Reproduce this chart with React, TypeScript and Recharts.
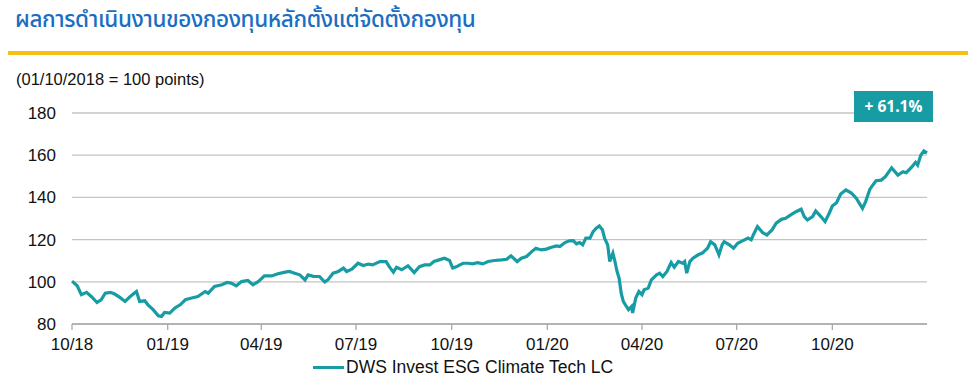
import React from 'react';
import { LineChart, Line, XAxis, YAxis, CartesianGrid } from 'recharts';

// days counted from 01/10/2018 (index = 100)
const dayIndex = [
  0, 5, 9, 14, 19, 24, 28, 32, 37, 41, 46, 51, 56, 62, 65, 70, 73, 78, 83, 86,
  89, 94, 99, 104, 109, 115, 121, 128, 131, 137, 144, 149, 153, 158, 163, 169, 174, 179, 185, 192,
  198, 205, 209, 214, 219, 224, 227, 232, 238, 243, 246, 251, 256, 261, 264, 269, 275, 280, 285, 289,
  296, 302, 305, 309, 312, 317, 323, 329, 334, 339, 344, 348, 353, 358, 363, 366, 370, 373, 376, 381,
  385, 390, 395, 400, 406, 413, 418, 422, 428, 432, 437, 442, 446, 451, 456, 461, 466, 469, 474, 478,
  482, 485, 488, 491, 494, 498, 501, 504, 507, 510, 512, 515, 517, 520, 522, 524, 526, 528, 530, 533,
  535, 538, 539, 542, 545, 548, 550, 554, 557, 562, 565, 568, 572, 576, 579, 583, 587, 589, 591, 594,
  597, 602, 606, 611, 614, 618, 622, 625, 627, 632, 636, 640, 645, 650, 653, 655, 659, 664, 668, 673,
  677, 682, 686, 691, 696, 701, 704, 707, 712, 715, 720, 724, 728, 731, 735, 739, 744, 749, 754, 757,
  760, 763, 767, 770, 773, 778, 782, 788, 794, 799, 802, 807, 811, 813, 816, 819, 822,
];

const fundValues = [
  100.3, 98.1, 93.9, 95.0, 92.8, 90.2, 91.5, 94.6, 95.0, 94.2, 92.6, 90.7, 93.0, 95.4, 90.7, 91.0, 89.1, 86.8, 83.9, 83.6,
  85.5, 85.2, 87.6, 89.1, 91.5, 92.3, 93.0, 95.4, 94.6, 97.8, 98.6, 99.7, 99.4, 98.1, 100.1, 100.6, 98.6, 100.1, 102.8, 102.8,
  103.8, 104.6, 104.9, 104.1, 103.3, 100.9, 103.3, 102.6, 102.5, 99.9, 100.9, 104.1, 104.9, 106.5, 104.9, 106.0, 108.8, 107.7, 108.4, 108.0,
  109.6, 109.6, 107.2, 104.6, 106.9, 105.7, 107.6, 104.4, 107.2, 108.0, 108.0, 109.6, 110.4, 111.2, 110.1, 106.5, 107.2, 108.0, 108.8, 108.8,
  108.5, 109.1, 108.5, 109.6, 110.1, 110.4, 110.7, 112.3, 109.6, 111.2, 112.0, 114.3, 115.9, 115.1, 115.5, 116.4, 117.0, 116.7, 118.6, 119.4,
  119.5, 118.0, 118.6, 117.5, 120.7, 120.7, 123.8, 125.4, 126.5, 124.6, 120.7, 117.5, 109.6, 113.6, 109.6, 104.9, 101.7, 94.6, 90.7, 88.3,
  86.8, 88.3, 85.2, 92.3, 95.4, 93.9, 96.2, 97.0, 100.9, 103.3, 104.1, 102.5, 104.9, 109.1, 106.9, 109.6, 108.8, 109.6, 104.1, 109.6,
  111.2, 112.8, 113.6, 115.9, 119.0, 117.5, 112.8, 117.5, 119.0, 117.5, 115.9, 118.3, 119.5, 120.7, 119.9, 122.2, 126.2, 123.3, 122.2, 124.6,
  127.8, 129.6, 130.1, 131.7, 133.2, 134.4, 130.9, 129.3, 130.9, 133.6, 130.9, 128.5, 132.5, 135.9, 137.5, 141.6, 143.5, 142.2, 139.6, 137.2,
  134.8, 138.0, 143.8, 145.9, 147.9, 148.2, 149.8, 154.0, 150.6, 152.2, 151.7, 154.2, 156.6, 155.3, 160.0, 162.0, 161.1,
];

const quarterTicks = [0, 92, 182, 273, 365, 457, 548, 639, 731];
const quarterLabels = ['10/18', '01/19', '04/19', '07/19', '10/19', '01/20', '04/20', '07/20', '10/20'];
const yTicks = [80, 100, 120, 140, 160, 180];

const seriesName = 'DWS Invest ESG Climate Tech LC';
const title = 'ผลการดำเนินงานของกองทุนหลักตั้งแต่จัดตั้งกองทุน';
const subtitle = '(01/10/2018 = 100 points)';
const returnLabel = '+ 61.1%';

const chartData = dayIndex.map((d, i) => ({ day: d, value: fundValues[i] }));

const TEAL = '#189ca4';
const FONT = '"Liberation Sans", Arial, sans-serif';

export default function App() {
  return (
    <div style={styles.page}>
      <style>{'body{margin:0}'}</style>
      <div style={styles.title}>{title}</div>
      <div style={styles.rule} />
      <div style={styles.subtitle}>{subtitle}</div>

      <div style={styles.chart}>
        <LineChart
          width={968}
          height={391}
          data={chartData}
          margin={{ top: 113, right: 41, left: 0, bottom: 37 }}
        >
          <CartesianGrid vertical={false} stroke="#c4c4c4" strokeWidth={1.3} />
          <XAxis
            dataKey="day"
            type="number"
            domain={[0, 822]}
            ticks={quarterTicks}
            tickFormatter={(v: number) => quarterLabels[quarterTicks.indexOf(v)]}
            tick={{ fontSize: 17, fill: '#111', fontFamily: FONT }}
            stroke="#a9a9a9"
            strokeWidth={1.3}
            tickSize={6}
            tickMargin={8}
            height={30}
            interval={0}
          />
          <YAxis
            domain={[80, 180]}
            ticks={yTicks}
            interval={0}
            axisLine={false}
            tickLine={false}
            tickSize={0}
            tickMargin={16}
            width={72}
            tick={{ fontSize: 17, fill: '#111', fontFamily: FONT }}
          />
          <Line
            type="linear"
            dataKey="value"
            name={seriesName}
            stroke={TEAL}
            strokeWidth={3.2}
            dot={false}
            isAnimationActive={false}
          />
        </LineChart>
      </div>

      <div style={styles.badge}>{returnLabel}</div>
      <div style={styles.legend}>
        <span style={styles.legendLine} />
        <span>{seriesName}</span>
      </div>
    </div>
  );
}

const styles: Record<string, React.CSSProperties> = {
  page: {
    position: 'relative',
    width: '968px',
    height: '391px',
    backgroundColor: '#ffffff',
    overflow: 'hidden',
  },

  chart: {
    position: 'absolute',
    left: 0,
    top: 0,
  },

  title: {
    position: 'absolute',
    left: '15px',
    top: '3px',
    fontSize: '22.5px',
    fontWeight: 500,
    letterSpacing: '-0.4px',
    color: '#1a6ec2',
    fontFamily: '"Noto Sans Thai", "Noto Sans", sans-serif',
    whiteSpace: 'nowrap',
  },

  rule: {
    position: 'absolute',
    left: '8px',
    top: '51px',
    width: '960px',
    height: '4px',
    backgroundColor: '#f6c114',
  },

  subtitle: {
    position: 'absolute',
    left: '16px',
    top: '70px',
    fontSize: '16.5px',
    color: '#111',
    fontFamily: FONT,
  },

  badge: {
    position: 'absolute',
    left: '854px',
    top: '91px',
    width: '79px',
    height: '31px',
    lineHeight: '31px',
    textAlign: 'center',
    backgroundColor: TEAL,
    color: '#ffffff',
    fontWeight: 'bold',
    fontSize: '15.5px',
    fontFamily: '"Open Sans", sans-serif',
  },

  legend: {
    position: 'absolute',
    left: '313px',
    top: '357px',
    display: 'flex',
    alignItems: 'center',
    fontSize: '17.5px',
    color: '#111',
    fontFamily: FONT,
    whiteSpace: 'nowrap',
  },

  legendLine: {
    display: 'inline-block',
    width: '31px',
    height: '3px',
    backgroundColor: TEAL,
    marginRight: '2px',
  },
};
